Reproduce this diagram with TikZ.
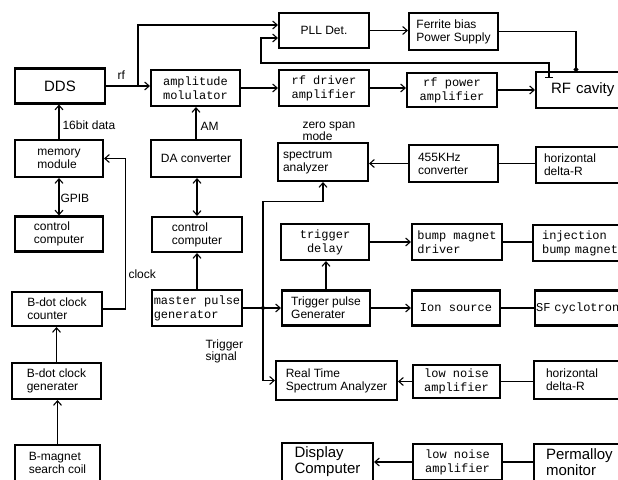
\documentclass[tikz,border=0pt]{standalone}
\usepackage{fontspec}
\setmainfont{Liberation Sans}
\setmonofont{Liberation Mono}
\usetikzlibrary{arrows.meta}

\begin{document}
\begin{tikzpicture}[x=1pt,y=-1pt,line width=1.1pt,
    >={Straight Barb[length=4.5pt,width=8pt]},
    blk/.style={draw,line width=2.1pt,align=left,inner sep=0pt,font=\fontsize{12}{13}\selectfont},
    mono/.style={align=center,font=\ttfamily\fontsize{12}{14}\selectfont},
    big/.style={font=\fontsize{15}{16}\selectfont},
    endbox/.style={blk,anchor=west,text width=90pt,minimum height=#1},
    lbl/.style={anchor=west,inner sep=0pt,align=left,font=\fontsize{12}{12}\selectfont}]
  \clip (0,0) rectangle (618,479);
  % left column
  \node[blk,big,minimum width=90pt,minimum height=35pt] (dds) at (60,86) {DDS};
  \node[blk,minimum width=88pt,minimum height=37pt] (mem) at (59,158.5) {memory\\module};
  \node[blk,minimum width=88pt,minimum height=35pt] (ctl1) at (59,234) {control\\computer};
  \node[blk,minimum width=90pt,minimum height=34pt] (bcnt) at (57,309) {B-dot clock\\counter};
  \node[blk,minimum width=89pt,minimum height=36pt] (bgen) at (56.5,381) {B-dot clock\\generater};
  \node[blk,minimum width=85pt,minimum height=36pt] (coil) at (57.5,463) {B-magnet\\search coil};
  % second column
  \node[blk,mono,minimum width=89pt,minimum height=36pt] (amod) at (195.5,88) {amplitude\\molulator};
  \node[blk,minimum width=90pt,minimum height=37pt] (da) at (196,158.5) {DA converter};
  \node[blk,minimum width=90pt,minimum height=35pt] (ctl2) at (197,234.5) {control\\computer};
  \node[blk,mono,align=left,minimum width=90pt,minimum height=36pt] (mpg) at (197,308) {master pulse\\generator};
  % third column
  \node[blk,minimum width=90pt,minimum height=35pt] (pll) at (324,30.5) {PLL Det.};
  \node[blk,mono,minimum width=90pt,minimum height=36pt] (rfdrv) at (324,88) {rf driver\\amplifier};
  \node[blk,text width=80pt,inner xsep=5pt,minimum height=38pt] (sa) at (323,162) {spectrum\\analyzer};
  \node[blk,mono,minimum width=88pt,minimum height=36pt] (tdly) at (325,242) {trigger\\delay};
  \node[blk,minimum width=88pt,minimum height=35pt] (tpg) at (326,308) {Trigger pulse\\Generater};
  \node[blk,minimum width=121pt,minimum height=39pt] (rtsa) at (336.5,380.5) {Real Time\\Spectrum Analyzer};
  \node[blk,big,minimum width=91pt,minimum height=38pt] (disp) at (327.5,462) {Display\\Computer};
  % fourth column
  \node[blk,minimum width=89pt,minimum height=37pt] (fbps) at (453.5,31.5) {Ferrite bias\\Power Supply};
  \node[blk,mono,minimum width=90pt,minimum height=34pt] (rfpow) at (452,90) {rf power\\amplifier};
  \node[blk,text width=71pt,inner xsep=9pt,minimum height=37pt] (conv) at (453.5,163.5) {455KHz\\converter};
  \node[blk,mono,align=left,minimum width=90pt,minimum height=36pt] (bmd) at (457,242) {bump magnet\\driver};
  \node[blk,mono,minimum width=88pt,minimum height=35pt] (ion) at (456,308) {Ion source};
  \node[blk,mono,minimum width=87pt,minimum height=33pt] (lna1) at (456.5,381.5) {low noise\\amplifier};
  \node[blk,mono,minimum width=89pt,minimum height=36pt] (lna2) at (457.5,462) {low noise\\amplifier};
  % right column, cut by the page edge
  \node[endbox=36pt,big,inner xsep=15pt] (cav) at (535,90) {RF cavity};
  \node[endbox=36pt,inner xsep=8pt] (hdr1) at (535,165) {horizontal\\delta-R};
  \node[endbox=36pt,mono,align=left,inner xsep=9pt] (inj) at (532,243) {injection\\bump magnet};
  \node[endbox=35pt,mono,align=left,inner xsep=1pt] (sfc) at (534,308) {SF cyclotron};
  \node[endbox=38pt,inner xsep=12pt] (hdr2) at (533,380) {horizontal\\delta-R};
  \node[endbox=37pt,big,inner xsep=12pt] (perm) at (533,462.5) {Permalloy\\monitor};
  % rf path
  \coordinate (rfsplit) at (138,86);
  \coordinate (pickup) at (549,78);
  \coordinate (fbturn) at (261,63);
  \coordinate (biasin) at (576,72);
  \draw[->] (dds.east) -- (dds.east -| amod.west);
  \draw[->] (rfsplit) |- ([yshift=5.5pt]pll.west);
  \node[lbl] (rflbl) at (117,75) {rf};
  \draw[->] (amod) -- (rfdrv);
  \draw[->] (rfdrv.east) -- (rfdrv.east -| rfpow.west);
  \draw[->] (rfpow.east) -- (rfpow.east -| cav.west);
  \draw[->] (pll.east) -- (pll.east -| fbps.west);
  \draw[-{Circle[length=5pt]}] (fbps.east) -| (biasin);
  \draw[{Bar[width=8pt]}->] (pickup) |- (fbturn) |- ([yshift=-7.5pt]pll.west);
  % left column
  \draw[->] (mem.north) -- (mem.north |- dds.south);
  \node[lbl] (datalbl) at (62,125) {16bit data};
  \draw[<->] (mem.south) -- (mem.south |- ctl1.north);
  \node[lbl] (gpiblbl) at (60,198) {GPIB};
  \draw[->] (bcnt.east) -- ++(22,0) |- (mem.east);
  \node[lbl] (clklbl) at (128,274) {clock};
  \draw[->] (bgen.north) -- (bgen.north |- bcnt.south);
  \draw[->] (coil.north) -- (coil.north |- bgen.south);
  % second column
  \draw[->] (da.north) -- (da.north |- amod.south);
  \node[lbl] (amlbl) at (200,126) {AM};
  \draw[<->] (ctl2.north) -- (ctl2.north |- da.south);
  \draw[->] (mpg.north) -- (mpg.north |- ctl2.south);
  % trigger lines
  \coordinate (jn) at (263,308);
  \draw[->] (mpg.east) -- (mpg.east -| tpg.west);
  \fill (jn) circle (2pt);
  \draw[->] (jn) |- ([yshift=-19pt]sa.south) -- (sa.south);
  \draw[->] (jn) |- (rtsa.west);
  \node[lbl] (trglbl) at (205,351) {Trigger\\signal};
  \node[lbl] (zslbl) at (302,131) {zero span\\mode};
  \draw[->] (tpg.north) -- (tpg.north |- tdly.south);
  \draw[->] (tdly.east) -- (tdly.east -| bmd.west);
  \draw[->] (tpg.east) -- (tpg.east -| ion.west);
  \draw[->] (conv.west) -- (conv.west -| sa.east);
  \draw[->] (lna1.west) -- (lna1.west -| rtsa.east);
  \draw[->] (lna2.west) -- (lna2.west -| disp.east);
  \foreach \a/\b in {conv/hdr1,bmd/inj,ion/sfc,lna1/hdr2,lna2/perm}
    \draw (\a.east) -- (\a.east -| \b.west);
\end{tikzpicture}
\end{document}
